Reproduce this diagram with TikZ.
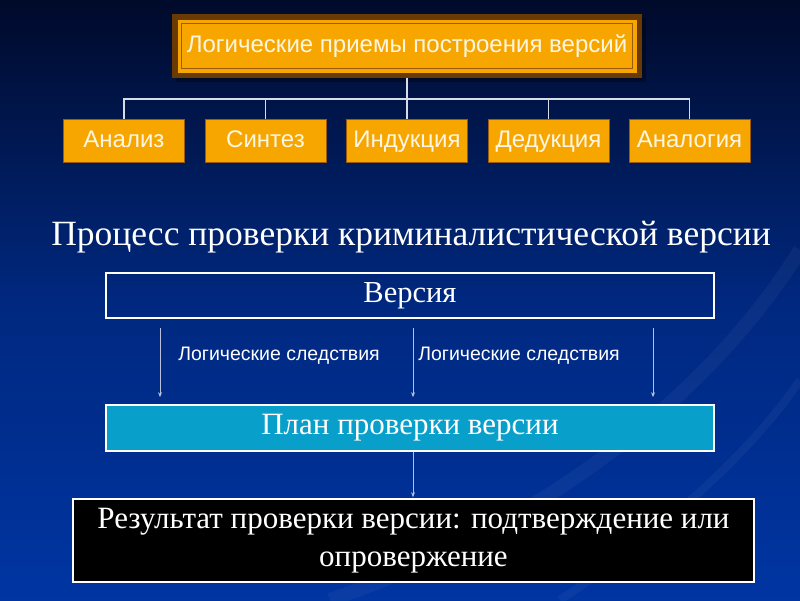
\documentclass[tikz,border=0pt]{standalone}
\usepackage{fontspec}
\setmainfont{Liberation Serif}
\setsansfont{Liberation Sans}
\usetikzlibrary{arrows.meta}
\definecolor{bgtop}{HTML}{000A2A}
\definecolor{bgmid}{HTML}{00287F}
\definecolor{bgbot}{HTML}{0035A2}
\definecolor{orng}{HTML}{F7A600}
\definecolor{dbrown}{HTML}{6A3A05}
\definecolor{lbrown}{HTML}{9A5A10}
\definecolor{cream}{HTML}{FFF6E2}
\definecolor{cyanbox}{HTML}{099FCB}
\definecolor{linec}{HTML}{D8DCE8}
\definecolor{arrc}{HTML}{B8C0DC}
\tikzset{
  obox/.style={fill=orng, draw=lbrown, line width=0.8pt, minimum width=121pt, minimum height=43pt,
    inner sep=0pt, text height=17pt, text depth=4pt, font=\sffamily\fontsize{24}{26}\selectfont, text=cream},
  wbox/.style={draw=white, line width=1.6pt, minimum width=608pt, inner sep=0pt, text=white},
  conn/.style={draw=linec, line width=1.2pt},
  arr/.style={draw=arrc, line width=0.9pt, -{Stealth[length=5pt,width=4pt]}},
  lbl/.style={text=white, font=\sffamily\fontsize{19.5}{21}\selectfont, inner sep=0pt}
}
\begin{document}
\begin{tikzpicture}[x=1pt,y=-1pt]
\shade[top color=bgtop, bottom color=bgbot, middle color=bgmid] (0,0) rectangle (800,600);
\useasboundingbox (0,0) rectangle (800,600);
% faint background swoosh
\begin{scope}[opacity=0.04]
\draw[line width=14pt, white] (330,600) .. controls (560,520) and (720,380) .. (800,250);
\draw[line width=8pt, white] (560,600) .. controls (680,520) and (760,440) .. (800,380);
\end{scope}
% top box
\fill[black, opacity=0.35] (176,18) rectangle (646,82);
\node[fill=dbrown, minimum width=470pt, minimum height=64pt, inner sep=0pt] (topframe) at (407,46) {};
\node[fill=orng, minimum width=459pt, minimum height=53pt, inner sep=0pt] (topfill) at (407,46) {};
\node[draw=lbrown, line width=0.8pt, minimum width=451pt, minimum height=45pt, inner sep=0pt,
  text height=17pt, text depth=4pt,
  text=cream, font=\sffamily\fontsize{24}{26}\selectfont] (top) at (407,46) {Логические приемы построения версий};
% five boxes
\node[obox] (b1) at (124,140.5) {Анализ};
\node[obox] (b2) at (265.5,140.5) {Синтез};
\node[obox] (b3) at (407,140.5) {Индукция};
\node[obox] (b4) at (548.5,140.5) {Дедукция};
\node[obox] (b5) at (689.5,140.5) {Аналогия};
\coordinate (hub) at (407,99);
\draw[conn] (topframe.south) -- (hub);
\draw[conn] (b1.north) -- (b1.north |- hub) -- (b5.north |- hub) -- (b5.north);
\draw[conn] (b2.north) -- (b2.north |- hub);
\draw[conn] (b3.north) -- (b3.north |- hub);
\draw[conn] (b4.north) -- (b4.north |- hub);
% title
\node[text=white, font=\fontsize{35.5}{38}\selectfont, inner sep=0pt] (title) at (411,237)
  {Процесс проверки криминалистической версии};
% version box
\node[wbox, minimum height=45pt, font=\fontsize{30.5}{32}\selectfont] (ver) at (410,295.5) {Версия};
\node[wbox, fill=cyanbox, minimum height=46pt, font=\fontsize{31}{33}\selectfont] (plan) at (410,428) {План проверки версии};
\draw[arr, shorten <=9pt, shorten >=7pt] (ver.south -| 160,0) -- (plan.north -| 160,0);
\draw[arr, shorten <=9pt, shorten >=7pt] (ver.south -| 413,0) -- (plan.north -| 413,0);
\draw[arr, shorten <=9pt, shorten >=7pt] (ver.south -| 653,0) -- (plan.north -| 653,0);
\node[lbl] (l1) at (279,356) {Логические следствия};
\node[lbl] (l2) at (519,356) {Логические следствия};
% result box
\node[wbox, fill=black, minimum width=681pt, minimum height=83pt, align=center,
  font=\fontsize{31}{38}\selectfont] (res) at (413.5,540.5)
  {Результат проверки версии: подтверждение или\\опровержение};
\draw[arr, shorten >=1pt] (plan.south -| 413,0) -- (res.north -| 413,0);
\end{tikzpicture}
\end{document}
